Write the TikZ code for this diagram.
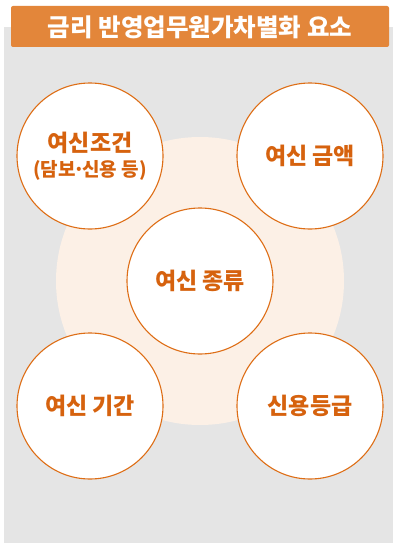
\documentclass[tikz,border=0pt]{standalone}
\usepackage{fontspec}
\newfontfamily\kr{Noto Sans CJK KR}
\definecolor{bggray}{RGB}{229,229,229}
\definecolor{titleor}{RGB}{227,134,58}
\definecolor{peach}{RGB}{252,240,230}
\definecolor{ringor}{RGB}{222,110,22}
\definecolor{textor}{RGB}{214,98,14}
\begin{document}
\begin{tikzpicture}[x=1pt,y=-1pt,
  factor/.style={circle,draw=ringor,line width=1.1pt,fill=white,minimum size=146pt,inner sep=0pt,
    text=textor,font=\kr\bfseries\fontsize{23}{26}\selectfont,align=center}]
\useasboundingbox (0,0) rectangle (393,543);
\fill[white] (0,0) rectangle (393,543);
\fill[bggray] (4,27) rectangle (393,543);
\fill[titleor,rounded corners=2pt] (11,6) rectangle (389,47);
\node[text=white,font=\kr\bfseries\fontsize{24.5}{26}\selectfont] (title) at (200,27) {금리 반영업무원가차별화 요소};
\fill[peach] (200,281) circle[radius=144];
\node[factor] (tl) at (90,156) {여신조건\\[-1pt]{\fontsize{19}{22}\selectfont (담보\kern-2.5pt·\kern-2.5pt신용 등)}};
\node[factor] (tr) at (310,156) {여신 금액};
\node[factor] (c) at (200,281) {여신 종류};
\node[factor] (bl) at (90,406) {여신 기간};
\node[factor] (br) at (310,406) {신용등급};
\end{tikzpicture}
\end{document}
